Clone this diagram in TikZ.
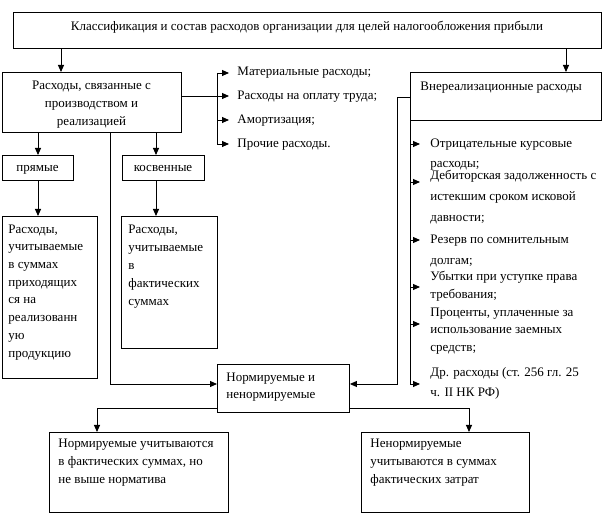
\documentclass[tikz,border=0pt]{standalone}
\usepackage{fontspec}
\setmainfont{Liberation Serif}
\usetikzlibrary{arrows.meta}
\newcommand{\fl}{\rule{0pt}{10pt}}
\begin{document}
\begin{tikzpicture}[x=1pt,y=-1pt,line width=0.9pt,
  box/.style={draw,rectangle,inner sep=0pt,anchor=north west},
  txt/.style={inner sep=0pt,anchor=north west,align=left},
  ctxt/.style={inner sep=0pt,align=center,font=\fontsize{13}{18}\selectfont},
  arr/.style={-{Triangle[length=7pt,width=6pt]}}]
\useasboundingbox[fill=white] (0,0) rectangle (614,529);
% boxes
\node[box,minimum width=588pt,minimum height=36pt] (top) at (13,12) {};
\node[box,minimum width=179pt,minimum height=60pt] (prod) at (2,72) {};
\node[box,minimum width=71pt,minimum height=25pt] (pr) at (2,155) {};
\node[box,minimum width=82pt,minimum height=25pt] (kos) at (122,155) {};
\node[box,minimum width=95pt,minimum height=162pt] (prbox) at (2,216) {};
\node[box,minimum width=96pt,minimum height=132pt] (kosbox) at (121,216) {};
\node[box,minimum width=132pt,minimum height=48pt] (norm) at (217,364) {};
\node[box,minimum width=179pt,minimum height=80pt] (nl) at (49,432) {};
\node[box,minimum width=168pt,minimum height=80pt] (nr) at (361,432) {};
\node[box,minimum width=191pt,minimum height=48pt] (vnr) at (410,72) {};
% centred texts
\node[ctxt,anchor=base] (toptext) at (307,30.5)
  {Классификация и состав расходов организации для целей налогообложения прибыли};
\node[ctxt] (prodtext) at (91.5,104.5)
  {Расходы, связанные с\\производством и\\реализацией};
\node[ctxt,anchor=base] (prtext0) at (37.5,171.5) {прямые};
\node[ctxt,anchor=base] (kostext0) at (163,171.5) {косвенные};
% texts inside boxes
\node[txt,font=\fontsize{13}{17.7}\selectfont] (prtext) at (8,222.7)
  {\fl Расходы,\\учитываемые\\в суммах\\приходящих\\ся на\\реализованн\\ую\\продукцию};
\node[txt,font=\fontsize{13}{18}\selectfont] (kostext) at (128,222.7)
  {\fl Расходы,\\учитываемые\\в\\фактических\\суммах};
\node[txt,font=\fontsize{13}{17}\selectfont] (normtext) at (226,370.7)
  {\fl Нормируемые и\\ненормируемые};
\node[txt,font=\fontsize{13}{18}\selectfont] (nltext) at (58,436.7)
  {\fl Нормируемые учитываются\\в фактических суммах, но\\не выше норматива};
\node[txt,font=\fontsize{13}{18}\selectfont] (nrtext) at (370,436.7)
  {\fl Ненормируемые\\учитываются в суммах\\фактических затрат};
\node[txt,font=\fontsize{13}{18}\selectfont] (vnrtext) at (420,79.7)
  {\fl Внереализационные расходы};
% left list
\node[txt,font=\fontsize{13}{18}\selectfont] (m1) at (237,65.2) {\fl Материальные расходы;};
\node[txt,font=\fontsize{13}{18}\selectfont] (m2) at (237,89.2) {\fl Расходы на оплату труда;};
\node[txt,font=\fontsize{13}{18}\selectfont] (m3) at (237,113.2) {\fl Амортизация;};
\node[txt,font=\fontsize{13}{18}\selectfont] (m4) at (237,137.2) {\fl Прочие расходы.};
% right list
\node[txt,font=\fontsize{13}{20}\selectfont] (r1) at (430,137)
  {\fl Отрицательные курсовые\\расходы;};
\node[txt,font=\fontsize{13}{21}\selectfont] (r2) at (430,169)
  {\fl Дебиторская задолженность с\\истекшим сроком исковой\\давности;};
\node[txt,font=\fontsize{13}{21}\selectfont] (r3) at (430,233)
  {\fl Резерв по сомнительным\\долгам;};
\node[txt,font=\fontsize{13}{18}\selectfont] (r4) at (430,270)
  {\fl Убытки при уступке права\\требования;};
\node[txt,font=\fontsize{13}{17.5}\selectfont] (r5) at (430,306)
  {\fl Проценты, уплаченные за\\использование заемных\\средств;};
\node[txt,font=\fontsize{13}{20}\selectfont] (r6) at (430,366)
  {\fl Др. расходы (ст. 256 гл. 25\\ч. II НК РФ)};
% helper coordinates
\coordinate (xa) at (61,0);
\coordinate (xb) at (566,0);
\coordinate (xc) at (38,0);
\coordinate (xd) at (156,0);
\coordinate (xe) at (110,0);
\coordinate (xf) at (217,0);
\coordinate (xg) at (397,0);
\coordinate (xh) at (97,0);
\coordinate (xi) at (469,0);
\coordinate (ya) at (0,384);
\coordinate (yb) at (0,408);
\coordinate (yc) at (0,97);
\coordinate (l1) at (229,73);
\coordinate (l2) at (229,96);
\coordinate (l3) at (229,120);
\coordinate (l4) at (229,144);
\coordinate (q1) at (420,144);
\coordinate (q2) at (420,182);
\coordinate (q3) at (420,240);
\coordinate (q4) at (420,287);
\coordinate (q5) at (420,324);
\coordinate (q6) at (420,384);
% connectors
\draw[arr] (top.south -| xa) -- (prod.north -| xa);
\draw[arr] (top.south -| xb) -- (vnr.north -| xb);
\draw[arr] (prod.south -| xc) -- (pr.north -| xc);
\draw[arr] (prod.south -| xd) -- (kos.north -| xd);
\draw[arr] (pr.south -| xc) -- (prbox.north -| xc);
\draw[arr] (kos.south -| xd) -- (kosbox.north -| xd);
\draw[arr] (prod.south -| xe) -- (xe |- ya) -- (norm.west |- ya);
\draw (prod.east |- l2) -- (l2 -| xf);
\draw (l1 -| xf) -- (l4 -| xf);
\foreach \i in {1,2,3,4} {\draw[arr] (l\i -| xf) -- (l\i);}
\draw[arr] (vnr.west |- yc) -- (xg |- yc) -- (xg |- ya) -- (norm.east |- ya);
\draw (vnr.south west) -- (vnr.west |- q6);
\foreach \i in {1,2,3,4,5,6} {\draw[arr] (q\i -| vnr.west) -- (q\i);}
\draw[arr] (norm.west |- yb) -| (nl.north -| xh);
\draw[arr] (norm.east |- yb) -| (nr.north -| xi);
\end{tikzpicture}
\end{document}
